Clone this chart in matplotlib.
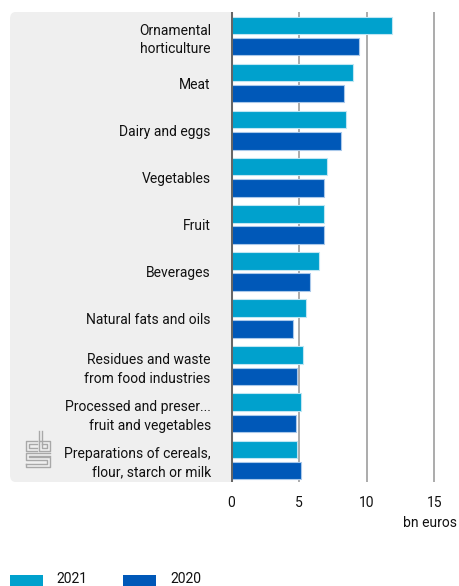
import matplotlib.pyplot as plt
from matplotlib.patches import FancyBboxPatch, Rectangle
from matplotlib.lines import Line2D
import numpy as np

plt.rcParams['font.family'] = ['Roboto', 'DejaVu Sans']

# Data (bn euros)
categories = [
    "Ornamental\nhorticulture",
    "Meat",
    "Dairy and eggs",
    "Vegetables",
    "Fruit",
    "Beverages",
    "Natural fats and oils",
    "Residues and waste\nfrom food industries",
    "Processed and preser...\nfruit and vegetables",
    "Preparations of cereals,\nflour, starch or milk",
]
values_2021 = [11.9, 9.0, 8.5, 7.1, 6.9, 6.5, 5.55, 5.3, 5.15, 4.9]
values_2020 = [9.45, 8.35, 8.15, 6.9, 6.9, 5.85, 4.6, 4.9, 4.8, 5.15]
series_names = ["2021", "2020"]
x_ticks = [0, 5, 10, 15]

c2021 = '#00a1cd'
c2020 = '#0058b8'
txt = '#111111'
fs = 10

W, H = 460, 586
fig = plt.figure(figsize=(W / 100, H / 100), dpi=100)

# axes area in pixels
left_px, right_px, top_px, bottom_px = 231, 460, 12, 482
ax = fig.add_axes([left_px / W, 1 - bottom_px / H,
                   (right_px - left_px) / W, (bottom_px - top_px) / H])

# grey label panel behind the categories
panel = FancyBboxPatch((10 / W, 1 - bottom_px / H), (240 - 10) / W,
                       (bottom_px - top_px) / H,
                       boxstyle='round,pad=0,rounding_size=0.012',
                       transform=fig.transFigure, facecolor='#efefef',
                       edgecolor='none', zorder=-1)
fig.patches.append(panel)

y = np.arange(len(categories))
h = 0.37
off = 0.225
ax.barh(y - off, values_2021, height=h, color=c2021, edgecolor='#bfe6f3',
        linewidth=0.8, zorder=3)
ax.barh(y + off, values_2020, height=h, color=c2020, edgecolor='#a9c8ea',
        linewidth=0.8, zorder=3)

ax.set_xlim(0, 16.9)
ax.set_ylim(len(categories) - 0.53, -0.51)

for t in x_ticks[1:]:
    ax.axvline(t, color='#ababab', linewidth=1.4, zorder=1)
ax.axvline(0, color='#666666', linewidth=2.2, zorder=4)

ax.set_xticks(x_ticks)
ax.set_xticklabels([str(t) for t in x_ticks])
ax.set_yticks(y)
ax.set_yticklabels(categories)
ax.tick_params(axis='both', length=0, labelsize=fs, colors=txt)
ax.tick_params(axis='x', pad=10)
ax.tick_params(axis='y', pad=14.5)
for lab in ax.get_yticklabels():
    lab.set_horizontalalignment('right')
    lab.set_linespacing(1.4)
for s in ax.spines.values():
    s.set_visible(False)
ax.set_facecolor('white')

fig.text(457 / W, 1 - 523 / H, "bn euros", ha='right', va='center',
         fontsize=fs, color=txt)

# legend
for x0, col, name, tx in [(10, c2021, series_names[0], 56),
                          (123, c2020, series_names[1], 170)]:
    fig.patches.append(Rectangle((x0 / W, 0), 33 / W, 11 / H,
                                 transform=fig.transFigure, facecolor=col,
                                 edgecolor='none'))
    fig.text(tx / W, 1 - 579 / H, name, ha='left', va='center',
             fontsize=fs, color=txt)

# cbs logo (rough outline)
def fl(xs, ys):
    fig.lines.append(Line2D([v / W for v in xs], [1 - v / H for v in ys],
                            transform=fig.transFigure, color='#a8a8a8',
                            linewidth=1.0))

fl([37, 26, 26, 37], [441, 441, 451, 451])
fl([37, 29, 29, 37], [444, 444, 448, 448])
fl([39, 39, 50, 50, 39], [431, 451, 451, 441, 441])
fl([42, 42, 47, 47, 42], [431, 448, 448, 444, 444])
fl([50, 26, 26, 47, 47, 26], [453, 453, 460, 460, 464, 464])
fl([50, 29, 29, 50, 50, 26, 26], [456, 456, 457, 457, 467, 467, 464])

fig.savefig('out.png', dpi=100)
